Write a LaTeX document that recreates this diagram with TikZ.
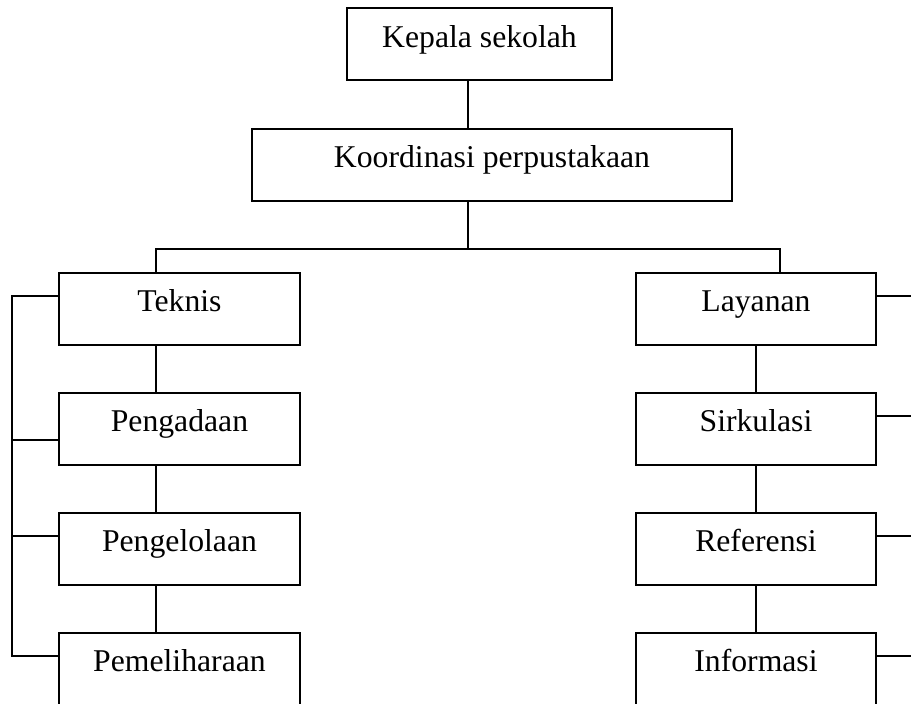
\documentclass[tikz,border=0pt]{standalone}
\usepackage{fontspec}
\setmainfont{Liberation Serif}
\begin{document}
\begin{tikzpicture}[x=0.5pt,y=-0.5pt,line width=1pt,
  unit box/.style={rectangle,draw,inner sep=0pt,minimum height=36pt,
    text height=9pt,text depth=6pt,font=\fontsize{15.85pt}{19pt}\selectfont}]
  \useasboundingbox (0,0) rectangle (911,704);

  \node[unit box,minimum width=132.5pt] (kepala) at (479.5,44.5) {Kepala sekolah};
  \node[unit box,minimum width=240pt] (koord) at (492,165) {Koordinasi perpustakaan};

  % two sections
  \node[unit box,minimum width=120.5pt] (teknis)       at (179.5,309) {Teknis};
  \node[unit box,minimum width=120.5pt] (pengadaan)    at (179.5,429) {Pengadaan};
  \node[unit box,minimum width=120.5pt] (pengelolaan)  at (179.5,549) {Pengelolaan};
  \node[unit box,minimum width=120.5pt] (pemeliharaan) at (179.5,669) {Pemeliharaan};
  \node[unit box,minimum width=120pt] (layanan)   at (756,309) {Layanan};
  \node[unit box,minimum width=120pt] (sirkulasi) at (756,429) {Sirkulasi};
  \node[unit box,minimum width=120pt] (referensi) at (756,549) {Referensi};
  \node[unit box,minimum width=120pt] (informasi) at (756,669) {Informasi};

  \coordinate (trunk) at (468,249);
  \coordinate (ltap)  at (156,249);
  \coordinate (rtap)  at (780,249);
  \coordinate (lrail) at (12,0);
  \coordinate (rrail) at (911,0);

  \draw (kepala.south -| trunk) -- (koord.north -| trunk);
  \draw (koord.south -| trunk) -- (trunk);
  \draw (ltap |- teknis.north) -- (ltap) -- (rtap) -- (rtap |- layanan.north);

  \foreach \a/\b in {teknis/pengadaan,pengadaan/pengelolaan,pengelolaan/pemeliharaan}
    \draw (\a.south -| ltap) -- (\b.north -| ltap);
  \foreach \a/\b in {layanan/sirkulasi,sirkulasi/referensi,referensi/informasi}
    \draw (\a) -- (\b);

  % side rails
  \draw ([yshift=-12pt]teknis.north west) -- ([yshift=-12pt]teknis.north west -| lrail)
    |- ([yshift=-12pt]pemeliharaan.north west);
  \draw ([yshift=-24pt]pengadaan.north west) -- ([yshift=-24pt]pengadaan.north west -| lrail);
  \draw ([yshift=-12pt]pengelolaan.north west) -- ([yshift=-12pt]pengelolaan.north west -| lrail);
  \foreach \n in {layanan,sirkulasi,referensi,informasi}
    \draw ([yshift=-12pt]\n.north east) -- ([yshift=-12pt]\n.north east -| rrail);
\end{tikzpicture}
\end{document}
